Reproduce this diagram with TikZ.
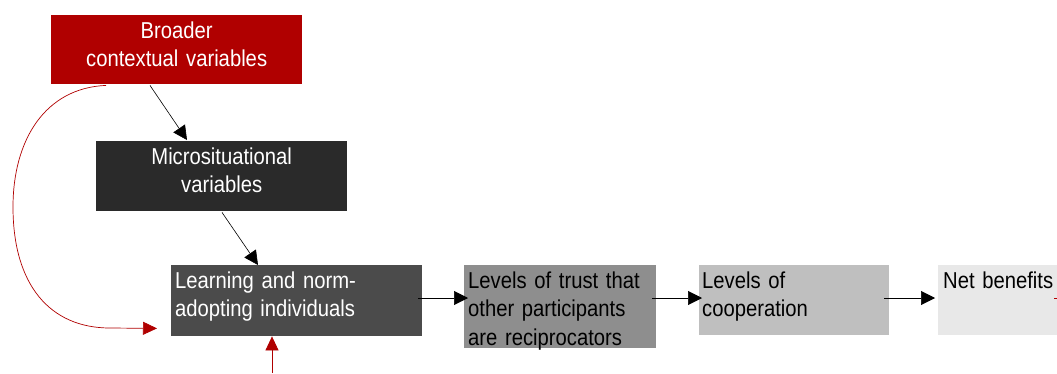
\documentclass[tikz,border=0pt]{standalone}
\usepackage{fontspec}
\setmainfont[FakeStretch=0.88]{Liberation Sans}
\usetikzlibrary{arrows.meta,calc}
\definecolor{bred}{HTML}{B00000}
\definecolor{cmicro}{HTML}{2A2A2A}
\definecolor{clearn}{HTML}{4B4B4B}
\definecolor{ctrust}{HTML}{8E8E8E}
\definecolor{ccoop}{HTML}{BFBFBF}
\definecolor{cnet}{HTML}{E8E8E8}
\tikzset{
  boxnode/.style={draw=none, inner sep=0pt, anchor=north west},
  txt/.style={inner sep=0pt, font=\fontsize{23pt}{28.5pt}\selectfont},
  ltxt/.style={txt, anchor=base west, align=left},
  ctxt/.style={txt, anchor=base, align=center},
  arr/.style={draw=black, line width=0.6pt, -{Triangle[length=14pt,width=14pt]}},
  rarr/.style={draw=bred, line width=0.7pt, -{Triangle[length=14pt,width=13pt]}},
}
\begin{document}
\begin{tikzpicture}[x=1pt,y=-1pt]
\useasboundingbox (0,0) rectangle (1057,373);
% boxes
\node[boxnode, fill=bred, minimum width=251pt, minimum height=69pt] (broad) at (51,15) {};
\node[boxnode, fill=cmicro, minimum width=251pt, minimum height=70pt] (micro) at (96,141) {};
\node[boxnode, fill=clearn, minimum width=251pt, minimum height=71pt] (learn) at (171,265) {};
\node[boxnode, fill=ctrust, minimum width=192pt, minimum height=83pt] (trust) at (464,265) {};
\node[boxnode, fill=ccoop, minimum width=190pt, minimum height=70pt] (coop) at (699,265) {};
\node[boxnode, fill=cnet, minimum width=125pt, minimum height=70pt] (net) at (938,265) {};
% texts
\node[ctxt, text=white, text width=251pt] (broadt) at ($(broad.north)+(0,23)$) {Broader\\contextual variables};
\node[ctxt, text=white, text width=251pt] (microt) at ($(micro.north)+(0,23)$) {Microsituational\\variables};
\node[ltxt, text=white, text width=245pt] (learnt) at ($(learn.north west)+(4,23)$) {Learning and norm-\\adopting individuals};
\node[ltxt, text=black, text width=188pt] (trustt) at ($(trust.north west)+(4,23)$) {Levels of trust that\\other participants\\are reciprocators};
\node[ltxt, text=black, text width=186pt] (coopt) at ($(coop.north west)+(3,23)$) {Levels of\\cooperation};
\node[ltxt, text=black, text width=115pt] (nett) at ($(net.north west)+(5,23)$) {Net benefits};
% connectors
\coordinate (row) at (0,298);
\draw[arr] ($(broad.south west)+(99,1)$) -- ($(micro.north west)+(91,-1)$);
\draw[arr] ($(micro.south west)+(126,1)$) -- ($(learn.north west)+(87,0)$);
\draw[arr] ($(learn.east |- row)+(-4,0)$) -- ($(trust.west |- row)+(4,0)$);
\draw[arr] ($(trust.east |- row)+(-4,0)$) -- ($(coop.west |- row)+(3,0)$);
\draw[arr] ($(coop.east |- row)+(-5,0)$) -- ($(net.west |- row)+(-3,0)$);
% red connectors
\coordinate (rtip) at ($(learn.south west)+(-14,-8)$);
\draw[rarr] ($(broad.south west)+(55,1)$) .. controls (45,88) and (13,140) .. (13,207)
   .. controls (13,285) and (50,328) .. (110,328) -- (rtip);
\coordinate (rfoot) at (272,373);
\draw[rarr] (rfoot) -- (learn.south -| rfoot);
\coordinate (rstub) at (1057,298);
\draw[draw=bred, line width=0.7pt] ($(net.east |- row)+(-9,0)$) -- (rstub);
\end{tikzpicture}
\end{document}
